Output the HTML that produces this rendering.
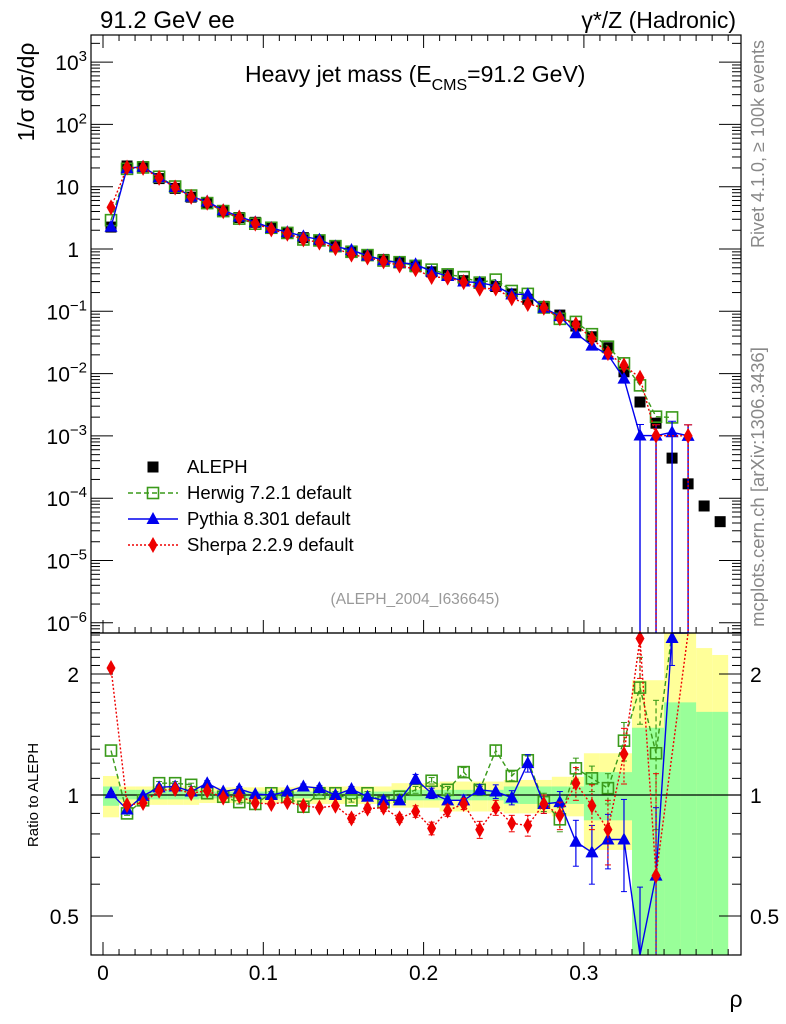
<!DOCTYPE html>
<html><head><meta charset="utf-8">
<style>
html,body{margin:0;padding:0;background:#fff;}
svg{display:block;font-family:"Liberation Sans","DejaVu Sans",sans-serif;}
</style></head>
<body>
<svg id="chart" width="786" height="1024" viewBox="0 0 786 1024" xmlns="http://www.w3.org/2000/svg">
<rect x="0" y="0" width="786" height="1024" fill="#fff"/>
<g id="lowerBands"></g>
<g id="grid"></g>
<g id="series"></g>
<rect x="91" y="35" width="650" height="598" fill="none" stroke="#000" stroke-width="1.2"/>
<rect x="91" y="633" width="650" height="322" fill="none" stroke="#000" stroke-width="1.2"/>
<text x="100" y="28" font-size="24">91.2 GeV ee</text>
<text x="736" y="28" font-size="23" text-anchor="end">γ*/Z (Hadronic)</text>
<text x="245" y="82" font-size="23">Heavy jet mass (E<tspan font-size="16" dy="8">CMS</tspan><tspan dy="-8">=91.2 GeV)</tspan></text>
<text transform="translate(34,92) rotate(-90)" font-size="23" text-anchor="middle">1/σ  dσ/dρ</text>
<text transform="translate(38,795) rotate(-90)" font-size="15" text-anchor="middle">Ratio to ALEPH</text>
<text x="736" y="1007" font-size="23" text-anchor="middle">ρ</text>
<text transform="translate(764,144) rotate(-90)" font-size="18" fill="#888" text-anchor="middle">Rivet 4.1.0, ≥ 100k events</text>
<text transform="translate(764,487) rotate(-90)" font-size="18.5" fill="#888" text-anchor="middle">mcplots.cern.ch [arXiv:1306.3436]</text>
<text x="415" y="604" font-size="15.5" fill="#999" text-anchor="middle">(ALEPH_2004_I636645)</text>
<g id="legend"></g>
</svg>
<script>
// ---- data ----
const binWidth = 0.01;
const alephValues = [2.25,21.5,21,13.5,9.4,6.8,5.4,4.1,3.2,2.68,2.17,1.83,1.52,1.36,1.10,0.93,0.79,0.68,0.62,0.52,0.43,0.38,0.31,0.28,0.25,0.19,0.156,0.12,0.087,0.058,0.039,0.026,0.0107,0.0035,0.0016,0.00044,0.00017,0.000075,0.000042];
const herwigRatio = [1.29,0.90,0.97,1.07,1.07,1.06,1.01,0.99,0.96,0.95,1.01,0.99,0.935,1.01,1.01,0.97,1.01,0.96,0.99,1.03,1.085,1.03,1.14,1.03,1.29,1.115,1.22,0.96,0.87,1.165,1.10,1.04,1.365,1.85,1.27,4.5];
const pythiaRatio = [1.01,0.92,0.995,1.045,1.05,1.02,1.07,1.02,1.035,1.005,1.0,1.02,1.05,1.04,1.0,1.035,0.99,0.97,0.97,1.095,1.01,0.97,0.97,1.03,1.02,0.985,1.2,0.95,0.96,0.765,0.72,0.775,0.775,0.29,0.63,2.6,5.9];
const sherpaRatio = [2.07,0.944,0.955,1.025,1.035,1.01,1.025,0.985,0.995,0.955,0.95,0.96,0.94,0.93,0.94,0.875,0.925,0.93,0.875,0.91,0.826,0.915,0.95,0.82,0.93,0.85,0.84,0.95,0.89,1.07,0.94,0.82,1.265,2.45,0.63,null,5.9];
const pythiaRatioErr = [0.01,0.01,0.01,0.01,0.01,0.01,0.015,0.01,0.015,0.01,0.01,0.01,0.015,0.015,0.01,0.015,0.015,0.02,0.02,0.03,0.03,0.02,0.03,0.03,0.04,0.04,0.06,0.05,0.06,0.1,0.12,0.12,0.2,0.3,0.3,0.5,1];
const herwigRatioErr = [0.01,0.01,0.01,0.01,0.01,0.01,0.01,0.01,0.01,0.01,0.01,0.01,0.01,0.01,0.01,0.01,0.01,0.01,0.015,0.02,0.02,0.02,0.03,0.02,0.04,0.03,0.03,0.05,0.06,0.07,0.08,0.09,0.15,0.35,0.45,0.5];
const sherpaRatioErr = [0.02,0.01,0.01,0.01,0.01,0.01,0.01,0.01,0.01,0.01,0.01,0.01,0.01,0.01,0.01,0.02,0.02,0.02,0.02,0.03,0.03,0.03,0.03,0.04,0.04,0.04,0.05,0.05,0.07,0.1,0.12,0.15,0.2,0.5,0.5,null,1];
const yellowHi = [1.115,1.05,1.05,1.05,1.05,1.05,1.045,1.045,1.045,1.045,1.045,1.045,1.05,1.05,1.05,1.05,1.05,1.05,1.07,1.07,1.07,1.08,1.08,1.08,1.08,1.09,1.09,1.09,1.11,1.11,1.27,1.27,1.27,1.93,1.93,2.6,2.6,2.32,2.23];
const yellowLo = [0.88,0.945,0.945,0.945,0.945,0.945,0.955,0.955,0.955,0.955,0.955,0.955,0.95,0.95,0.95,0.95,0.95,0.95,0.93,0.93,0.93,0.91,0.91,0.91,0.91,0.90,0.90,0.90,0.885,0.885,0.73,0.73,0.73,0.53,0.53,0.3,0.3,0.3,0.3];
const greenHi = [1.05,1.03,1.03,1.03,1.03,1.03,1.02,1.02,1.02,1.02,1.02,1.02,1.02,1.02,1.02,1.02,1.02,1.02,1.03,1.03,1.03,1.03,1.03,1.03,1.03,1.05,1.05,1.05,1.05,1.05,1.14,1.14,1.14,1.47,1.47,1.7,1.7,1.61,1.61];
const greenLo = [0.94,0.975,0.975,0.975,0.975,0.975,0.98,0.98,0.98,0.98,0.98,0.98,0.98,0.98,0.98,0.98,0.98,0.98,0.97,0.97,0.97,0.97,0.97,0.97,0.97,0.95,0.95,0.95,0.95,0.95,0.865,0.865,0.865,0.3,0.3,0.3,0.3,0.3,0.3];
const xTicks = [0,0.1,0.2,0.3];
const xTickLabels = ["0","0.1","0.2","0.3"];
const yExps = [3,2,1,0,-1,-2,-3,-4,-5,-6];
const ratioTicks = [2,1,0.5];
const ratioTickLabels = ["2","1","0.5"];

// ---- axes ----
const NS = "http://www.w3.org/2000/svg";
const L=91,R=741,T=35,M=633,B=955;
const X0=103, XS=1603;
function xp(v){return X0+v*XS;}
function yUp(v){return 249-62.3*Math.log10(v);}
function yRat(r){return 795-402*Math.log10(r);}
function mk(tag,attrs,parent){const e=document.createElementNS(NS,tag);for(const k in attrs)e.setAttribute(k,attrs[k]);parent.appendChild(e);return e;}
const G=document.getElementById('grid'), S=document.getElementById('series'), BD=document.getElementById('lowerBands');

function band(lo,hi,color,name){
  for(let i=0;i<lo.length;i++){
    const top=Math.max(M,yRat(hi[i])), bot=Math.min(B,yRat(lo[i]));
    const r=mk('rect',{x:xp(i*binWidth),y:top,width:xp((i+1)*binWidth)-xp(i*binWidth),height:Math.max(0,bot-top),fill:color},BD);
    
    
  }
}
band(yellowLo,yellowHi,'#ffff99','total-uncertainty-band');
band(greenLo,greenHi,'#99ff99','stat-uncertainty-band');

for(let k=0;k<=40;k++){
  const v=k*0.01, x=xp(v); if(x>R) break;
  const major=k%10===0;
  const len=major?13:6;
  mk('line',{x1:x,y1:M,x2:x,y2:M-len,stroke:'#000'},G);
  mk('line',{x1:x,y1:B,x2:x,y2:B-len,stroke:'#000'},G);
  mk('line',{x1:x,y1:T,x2:x,y2:T+len,stroke:'#000'},G);
}
xTicks.forEach((v,i)=>{
  const t=mk('text',{x:xp(v),y:980,'font-size':21,'text-anchor':'middle'},G);
  t.textContent=xTickLabels[i];
  
  
});
for(let e=-7;e<=4;e++){
  for(let m=1;m<10;m++){
    const v=m*Math.pow(10,e), y=yUp(v);
    if(y<T||y>M) continue;
    const len=m==1?22:9;
    mk('line',{x1:L,y1:y,x2:L+len,y2:y,stroke:'#000'},G);
    mk('line',{x1:R,y1:y,x2:R-len,y2:y,stroke:'#000'},G);
  }
}
yExps.forEach(e=>{
  const t=mk('text',{x:79,y:yUp(Math.pow(10,e))+8,'font-size':21,'text-anchor':'end'},G);
  
  
  if(e===1) t.textContent='10';
  else if(e===0) t.textContent='1';
  else {t.textContent='10'; const s=mk('tspan',{dy:-9,'font-size':15},t); s.textContent=String(e).replace('-','−'); t.setAttribute('x',87);}
});
for(let k=4;k<=26;k++){
  const r=k/10, y=yRat(r); if(y<M||y>B) continue;
  const major=(k===5||k===10||k===20);
  const len=major?22:9;
  mk('line',{x1:L,y1:y,x2:L+len,y2:y,stroke:'#000'},G);
  mk('line',{x1:R,y1:y,x2:R-len,y2:y,stroke:'#000'},G);
}
ratioTicks.forEach((r,i)=>{
  const t=mk('text',{x:79,y:yRat(r)+8,'font-size':21,'text-anchor':'end'},G);
  t.textContent=ratioTickLabels[i];
  
  
  const t2=mk('text',{x:750,y:yRat(r)+8,'font-size':21},G);
  t2.textContent=ratioTickLabels[i];
  
  
});
mk('line',{x1:L,y1:yRat(1),x2:R,y2:yRat(1),stroke:'#000','stroke-width':1.2},G);

function marker(type,x,y,color,parent){
  let e;
  if(type==='sq') e=mk('rect',{x:x-5.5,y:y-5.5,width:11,height:11,fill:'#000'},parent);
  else if(type==='osq') e=mk('rect',{x:x-5.5,y:y-5.5,width:11,height:11,fill:'none',stroke:color,'stroke-width':1.6},parent);
  else if(type==='tri') e=mk('polygon',{points:`${x},${y-7} ${x-6.5},${y+5} ${x+6.5},${y+5}`,fill:color},parent);
  else e=mk('polygon',{points:`${x},${y-8} ${x-4.5},${y} ${x},${y+8} ${x+4.5},${y}`,fill:color},parent);
  return e;
}
function clip(y,lo,hi){return Math.max(lo,Math.min(hi,y));}

function drawSeries(name,ratio,err,type,color,dash){
  const g=mk('g',{},S);
  
  
  let pts=[], rpts=[];
  ratio.forEach((r,i)=>{
    if(r==null) return;
    const x=xp((i+0.5)*binWidth);
    pts.push([x,yUp(alephValues[i]*r),i]);
    rpts.push([x,yRat(r),i]);
  });
  const upPath=pts.map((p,k)=>(k?'L':'M')+p[0]+','+clip(p[1],T,M)).join(' ');
  const ul=mk('path',{d:upPath,fill:'none',stroke:color,'stroke-width':1.4,'stroke-dasharray':dash},g);
  
  
  pts.forEach(p=>{
    if(p[2]>=33 && name!=='herwig' && alephValues[p[2]]*ratio[p[2]]<0.0015){
      mk('line',{x1:p[0],y1:p[1]-11,x2:p[0],y2:M,stroke:color,'stroke-width':1.4,'stroke-dasharray':dash},g);
      mk('line',{x1:p[0]-4,y1:p[1]-11,x2:p[0]+4,y2:p[1]-11,stroke:color},g);
    }
    const m=marker(type,p[0],p[1],color,g);
    
    
  });
  const lp=rpts.map((p,k)=>(k?'L':'M')+p[0]+','+clip(p[1],M,B)).join(' ');
  const ll=mk('path',{d:lp,fill:'none',stroke:color,'stroke-width':1.4,'stroke-dasharray':dash},g);
  
  
  rpts.forEach(p=>{
    const r=ratio[p[2]], e=err[p[2]]||0;
    const y1=clip(yRat(r+e),M,B), y2=clip(yRat(Math.max(0.05,r-e)),M,B);
    if(y2-y1>3){
      mk('line',{x1:p[0],y1:y1,x2:p[0],y2:y2,stroke:color,'stroke-width':1.2,'stroke-dasharray':dash},g);
      mk('line',{x1:p[0]-3,y1:y1,x2:p[0]+3,y2:y1,stroke:color},g);
      mk('line',{x1:p[0]-3,y1:y2,x2:p[0]+3,y2:y2,stroke:color},g);
    }
    if(p[1]>=M-8 && p[1]<=B+2){
      const m=marker(type,p[0],clip(p[1],M+5,B),color,g);
      
      
    }
  });
}
const ag=mk('g',{},S);


alephValues.forEach((v,i)=>{
  const m=marker('sq',xp((i+0.5)*binWidth),yUp(v),'#000',ag);
  
  
});
drawSeries('herwig',herwigRatio,herwigRatioErr,'osq','#3a9a1a','5,3');
drawSeries('pythia',pythiaRatio,pythiaRatioErr,'tri','#0000ee','none');
drawSeries('sherpa',sherpaRatio,sherpaRatioErr,'dia','#ee0000','2,2');

const LG=document.getElementById('legend');
const entries=[['ALEPH','sq','#000','none'],['Herwig 7.2.1 default','osq','#3a9a1a','5,3'],['Pythia 8.301 default','tri','#0000ee','none'],['Sherpa 2.2.9 default','dia','#ee0000','2,2']];
entries.forEach((en,k)=>{
  const y=467+k*26;
  const g=mk('g',{},LG);
  
  
  if(k>0) mk('line',{x1:128,y1:y,x2:178,y2:y,stroke:en[2],'stroke-width':1.4,'stroke-dasharray':en[3]},g);
  marker(en[1],153,y,en[2],g);
  const t=mk('text',{x:187,y:y+6,'font-size':18.5},g);
  t.textContent=en[0];
});
</script>
</body></html>
